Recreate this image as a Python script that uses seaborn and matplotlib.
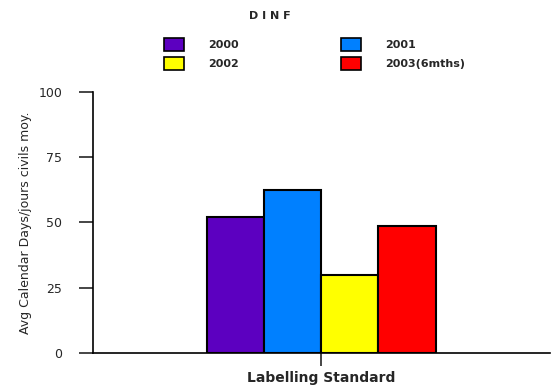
#!/usr/bin/env python3

import pandas as pd
import matplotlib.pyplot as plt
import seaborn as sns
from matplotlib.patches import Patch

# values
years = ["2000", "2001", "2002", "2003(6mths)"]
avg_days = [52, 62.5, 30, 48.8]
colors = ["#5C00C0", "#0080FF", "#FFFF00", "#FF0000"]
standard = "Labelling Standard"
y_ticks = [0, 25, 50, 75, 100]

df = pd.DataFrame({
    "standard": [""] * len(years),
    "year": years,
    "avg_days": avg_days,
})

sns.set_style("white")
plt.rcParams['font.family'] = ['DejaVu Sans']

fig = plt.figure(figsize=(5.57, 3.92), dpi=100)
ax = fig.add_axes([0.167, 0.0995, 0.82, 0.666])

sns.barplot(data=df, x="standard", y="avg_days", hue="year", hue_order=years,
            palette=colors, width=0.5, edgecolor="black", linewidth=1.5,
            saturation=1, ax=ax, legend=False)

ax.set_xlim(-0.5, 0.5)
ax.set_ylim(0, 100)
ax.set_yticks(y_ticks)
ax.set_yticklabels([str(t) for t in y_ticks], fontsize=9)
ax.set_xticks([0])
ax.set_xticklabels([""])
ax.tick_params(axis="y", direction="out", length=10, width=1.2, left=True, pad=12)
ax.tick_params(axis="x", direction="out", length=9, width=1.2, bottom=True, pad=0)

sns.despine(ax=ax)
for side in ["left", "bottom"]:
    ax.spines[side].set_linewidth(1.2)
    ax.spines[side].set_color("black")

ax.set_xlabel(standard, fontsize=10, fontweight="bold", labelpad=4)
ax.set_ylabel("Avg Calendar Days/jours civils moy.", fontsize=9,
              family=["Liberation Sans Narrow", "DejaVu Sans"], labelpad=5)

fig.text(0.485, 0.96, "D I N F", ha="center", va="center",
         fontsize=8, fontweight="bold")

handles = [Patch(facecolor=c, edgecolor="black", linewidth=1.2) for c in colors]
# ncol=2 fills column-wise: col1 2000/2002, col2 2001/2003
order = [0, 2, 1, 3]
fig.legend([handles[i] for i in order], [years[i] for i in order],
           ncol=2, loc="center left", bbox_to_anchor=(0.284, 0.862),
           frameon=False, prop={"size": 8, "weight": "bold"},
           handlelength=1.8, handleheight=1.5, handletextpad=2.2,
           columnspacing=9.2, labelspacing=0.5, borderpad=0)

fig.savefig("out.png", dpi=100)
